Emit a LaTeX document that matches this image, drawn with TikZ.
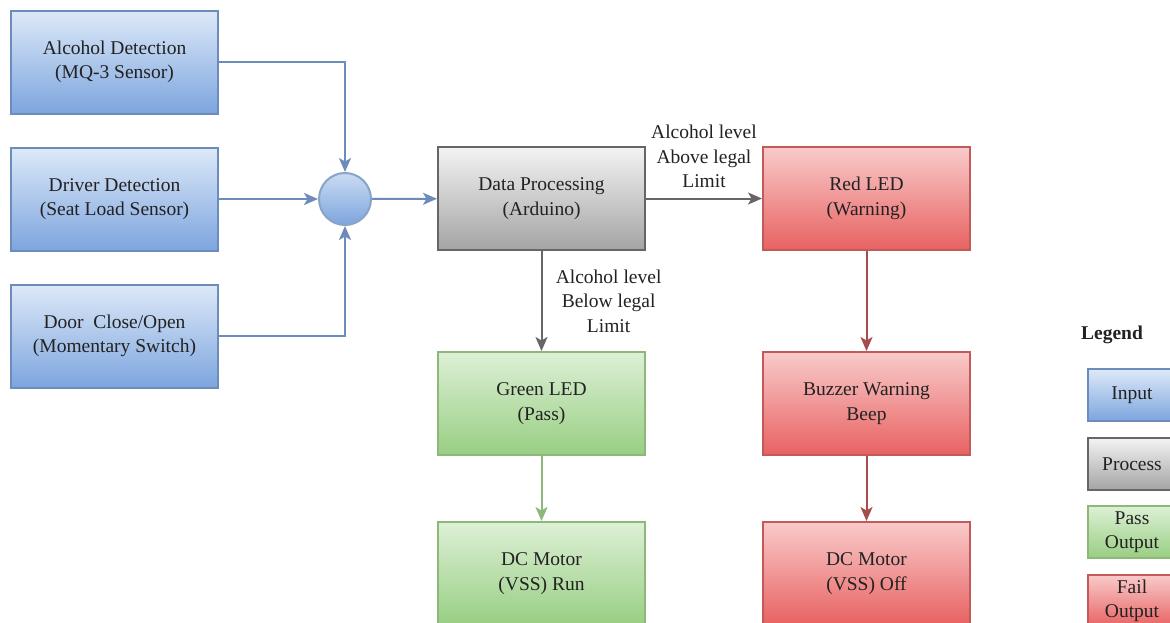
\documentclass[tikz,border=0pt]{standalone}
\usepackage{fontspec}
\setmainfont[Ligatures=TeX]{Liberation Serif}
\usetikzlibrary{arrows.meta}

\definecolor{inline}{HTML}{6C8CBC}
\definecolor{intop}{HTML}{DDE9F8}
\definecolor{inbot}{HTML}{7DA5DE}
\definecolor{procline}{HTML}{666666}
\definecolor{proctop}{HTML}{F3F3F3}
\definecolor{procbot}{HTML}{A4A4A4}
\definecolor{passline}{HTML}{8DB87A}
\definecolor{passtop}{HTML}{DDF0D6}
\definecolor{passbot}{HTML}{98CE82}
\definecolor{failline}{HTML}{C25A5A}
\definecolor{failtop}{HTML}{F9CACA}
\definecolor{failbot}{HTML}{E86262}
\definecolor{txt}{HTML}{222222}

\begin{document}
\begin{tikzpicture}[x=1pt, y=-1pt,
    font=\fontsize{19.5}{24.5}\selectfont, text=txt,
    box/.style={rectangle, draw, line width=2pt, align=center, inner sep=0pt,
      minimum width=207pt, minimum height=103pt},
    inbox/.style={box, draw=inline, top color=intop, bottom color=inbot},
    procbox/.style={box, draw=procline, top color=proctop, bottom color=procbot},
    passbox/.style={box, draw=passline, top color=passtop, bottom color=passbot},
    failbox/.style={box, draw=failline, top color=failtop, bottom color=failbot},
    keybox/.style={minimum width=88pt, minimum height=52pt},
    flow/.style={line width=2pt, -{Stealth[length=14pt, width=12pt, inset=3.5pt]}}]
    \clip (0,0) rectangle (1170,622);
    \fill[white] (0,0) rectangle (1170,622);

    \node[inbox] (alc) at (114.5,62) {Alcohol Detection\\(MQ-3 Sensor)};
    \node[inbox] (drv) at (114.5,199) {Driver Detection\\(Seat Load Sensor)};
    \node[inbox] (door) at (114.5,336) {Door~ Close/Open\\(Momentary Switch)};
    \node[circle, draw=inline!80, line width=2pt, minimum size=52pt, inner sep=0pt,
      top color=intop!80!inbot, bottom color=inbot] (sum) at (345,199) {};

    \node[procbox] (proc) at (541.5,198.5) {Data Processing\\(Arduino)};
    \node[failbox] (red) at (866.5,198.5) {Red LED\\(Warning)};
    \node[passbox] (green) at (541.5,403.5) {Green LED\\(Pass)};
    \node[failbox] (buzz) at (866.5,403.5) {Buzzer Warning\\Beep};
    \node[passbox] (run) at (541.5,573.5) {DC Motor\\(VSS) Run};
    \node[failbox] (off) at (866.5,573.5) {DC Motor\\(VSS) Off};

    \draw[flow, inline] (alc.east |- 0,62) -| (sum.north);
    \draw[flow, inline] (drv) -- (sum);
    \draw[flow, inline] (door.east |- 0,336) -| (sum.south);
    \draw[flow, inline] (sum) -- (proc);

    \draw[flow, procline] (proc) -- (red)
      node[midway, above=6pt, align=center, text=txt] {Alcohol level\\Above legal\\Limit};
    \draw[flow, procline] (proc) -- (green)
      node[midway, right=10pt, align=center, text=txt] {Alcohol level\\Below legal\\Limit};
    \draw[flow, passline] (green) -- (run);
    \draw[flow, failline!85!black] (red) -- (buzz);
    \draw[flow, failline!85!black] (buzz) -- (off);

    \node[font=\fontsize{19.5}{24.5}\selectfont\bfseries] (legend) at (1112,335) {Legend};
    \node[inbox, keybox] (kin) at (1132,395) {Input};
    \node[procbox, keybox] (kproc) at (1132,464) {Process};
    \node[passbox, keybox] (kpass) at (1132,532) {Pass\\Output};
    \node[failbox, keybox] (kfail) at (1132,601) {Fail\\Output};
\end{tikzpicture}
\end{document}
